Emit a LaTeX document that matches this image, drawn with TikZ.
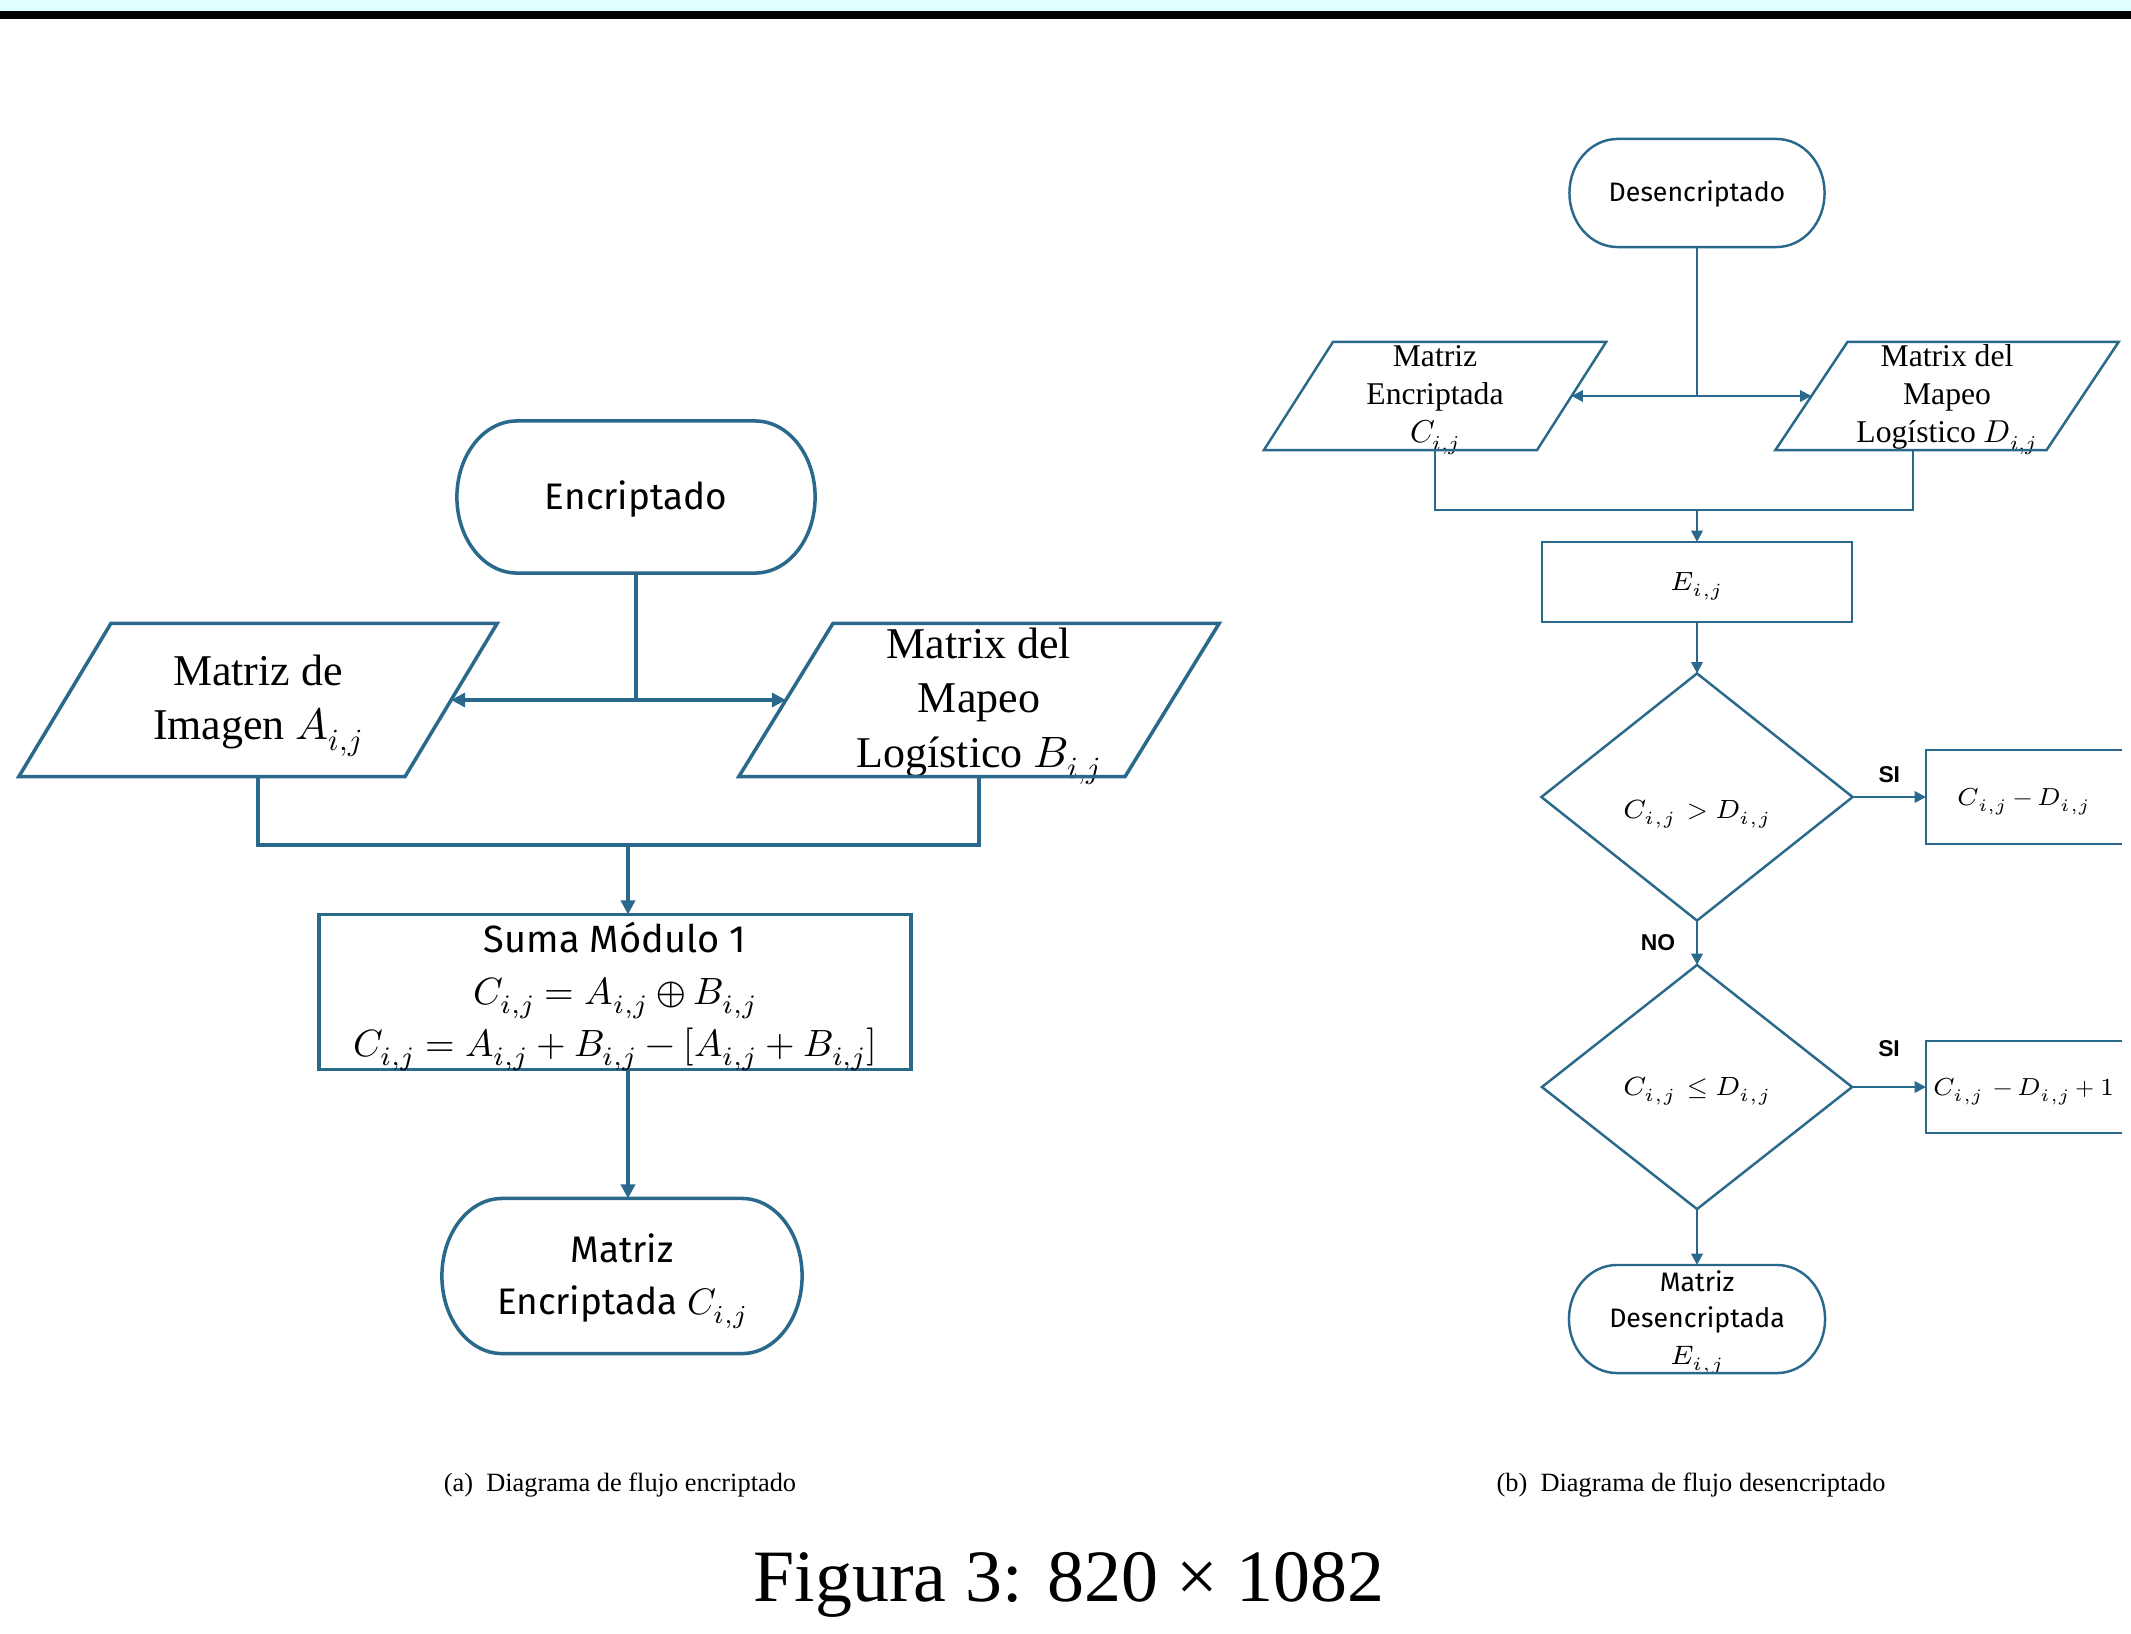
\documentclass[tikz,border=0pt]{standalone}
\usepackage{fontspec}
\usepackage{unicode-math}
\setmainfont{Liberation Serif}
\setmathfont{Latin Modern Math}
\newfontfamily\uisans{Fira Sans}
\newfontfamily\lblfont{Liberation Sans}
\usetikzlibrary{arrows.meta,shapes.geometric}
\definecolor{flow}{RGB}{42,105,140}
\definecolor{topband}{RGB}{224,255,255}
\newcommand\tb[1]{\smash{\raisebox{-0.3em}{\begin{tabular}{@{}c@{}}#1\end{tabular}}}}
\newcommand\termoutline[4]{%
 \draw[#1] ([xshift=#3]#2.north west) -- ([xshift=-#3]#2.north east)
   arc[start angle=90,end angle=-90,x radius=#3,y radius=#4]
   -- ([xshift=#3]#2.south west)
   arc[start angle=270,end angle=90,x radius=#3,y radius=#4] -- cycle;}
\newcommand\paraoutline[3]{%
 \draw[#1] ([xshift=#3]#2.north west) -- ([xshift=#3]#2.north east)
   -- ([xshift=-#3]#2.south east) -- ([xshift=-#3]#2.south west) -- cycle;}
\tikzset{
 lnA/.style={draw=flow,line width=1pt},
 lnB/.style={draw=flow,line width=0.7pt},
 arrA/.style={lnA,-{Triangle[length=4pt,width=4pt]}},
 arrB/.style={lnB,-{Triangle[length=3.2pt,width=3.2pt]}},
 shapebox/.style={inner sep=0pt,outer sep=0pt,align=center},
 sansA/.style={font=\uisans\fontsize{10.5}{14.8}\selectfont},
 serifA/.style={font=\fontsize{12.5}{15.5}\selectfont},
 sansB/.style={font=\uisans\fontsize{7.6}{10.4}\selectfont},
 serifB/.style={font=\fontsize{9}{10.8}\selectfont},
 mathB/.style={font=\fontsize{7.5}{10}\selectfont},
 mathC/.style={font=\fontsize{7}{10}\selectfont},
 lbl/.style={font=\lblfont\bfseries\fontsize{6.5}{8}\selectfont,inner sep=0pt},
 capt/.style={font=\fontsize{7.5}{9}\selectfont,inner sep=0pt,anchor=base}
}
\begin{document}
\begin{tikzpicture}[x=0.01cm,y=-0.01cm]
\useasboundingbox (0,0) rectangle (2131,1633);
\fill[topband] (0,0) rectangle (2131,11);
\fill[black] (0,11) rectangle (2131,19);

% ---------------- (a) ----------------
\node[shapebox,sansA,minimum width=3.58cm,minimum height=1.52cm] (enc) at (636,497) {\tb{Encriptado}};
\termoutline{lnA}{enc}{0.6cm}{0.76cm}
\node[shapebox,serifA,minimum width=3.86cm,minimum height=1.53cm] (la) at (258,700) {\tb{Matriz de\\Imagen $A_{i,j}$}};
\paraoutline{lnA}{la}{0.46cm}
\node[shapebox,serifA,minimum width=3.86cm,minimum height=1.53cm] (lb) at (979,700) {\tb{Matrix del\\Mapeo\\Logístico $B_{i,j}$}};
\paraoutline{lnA}{lb}{0.47cm}
\node[shapebox,lnA,draw,font=\uisans\fontsize{10.8}{14.8}\selectfont,minimum width=5.92cm,minimum height=1.55cm] (suma) at (615,992)
  {\tb{Suma Módulo 1\\$C_{i,j}=A_{i,j}\oplus B_{i,j}$\\$C_{i,j}=A_{i,j}+B_{i,j}-[A_{i,j}+B_{i,j}]$}};
\node[shapebox,sansA,minimum width=3.6cm,minimum height=1.55cm] (menc) at (622,1276) {\tb{Matriz\\Encriptada $C_{i,j}$}};
\termoutline{lnA}{menc}{0.6cm}{0.775cm}

\coordinate (j1) at (enc.south |- la.east);
\draw[lnA] (enc.south) -- (j1);
\draw[arrA] (j1) -- (la.east);
\draw[arrA] (j1) -- (lb.west);
\coordinate (m1) at (628,845);
\draw[lnA] (la.south) -- (la.south |- m1) -- (lb.south |- m1) -- (lb.south);
\draw[arrA] (m1) -- (m1 |- suma.north);
\draw[arrA] (m1 |- suma.south) -- (m1 |- menc.north);

% ---------------- (b) ----------------
\node[shapebox,sansB,minimum width=2.55cm,minimum height=1.08cm] (des) at (1697,193) {\tb{Desencriptado}};
\termoutline{lnB}{des}{0.48cm}{0.54cm}
\node[shapebox,serifB,minimum width=2.73cm,minimum height=1.08cm] (rc) at (1435,396) {\tb{Matriz\\Encriptada\\$C_{i,j}$}};
\paraoutline{lnB}{rc}{0.345cm}
\node[shapebox,serifB,minimum width=2.71cm,minimum height=1.08cm] (rd) at (1947,396) {\tb{Matrix del\\Mapeo\\Logístico $D_{i,j}$}};
\paraoutline{lnB}{rd}{0.36cm}
\node[shapebox,lnB,draw,mathB,minimum width=3.10cm,minimum height=0.80cm] (eb) at (1697,582) {\tb{$E_{i,j}$}};
\node[shapebox,lnB,draw,diamond,mathB,minimum width=3.11cm,minimum height=2.47cm] (d1) at (1697,797) {\raisebox{-0.26cm}{\tb{$C_{i,j}\,>D_{i,j}$}}};
\node[shapebox,lnB,draw,diamond,mathB,minimum width=3.10cm,minimum height=2.44cm] (d2) at (1697,1087) {\tb{$C_{i,j}\,\leq D_{i,j}$}};
\node[shapebox,mathC,minimum width=1.96cm,minimum height=0.94cm] (r1) at (2024,797) {\tb{$C_{i,j}-D_{i,j}$}};
\draw[lnB] (r1.north east) -- (r1.north west) -- (r1.south west) -- (r1.south east);
\node[shapebox,mathC,minimum width=1.96cm,minimum height=0.92cm] (r2) at (2024,1087) {\tb{$C_{i,j}\,-D_{i,j}+1$}};
\draw[lnB] (r2.north east) -- (r2.north west) -- (r2.south west) -- (r2.south east);
\node[shapebox,sansB,minimum width=2.56cm,minimum height=1.08cm] (dt) at (1697,1319) {\tb{Matriz\\Desencriptada\\$E_{i,j}$}};
\termoutline{lnB}{dt}{0.48cm}{0.54cm}

\coordinate (j2) at (des.south |- rc.east);
\draw[lnB] (des.south) -- (j2);
\draw[arrB] (j2) -- (rc.east);
\draw[arrB] (j2) -- (rd.west);
\coordinate (m2) at (1697,510);
\draw[lnB] (rc.south) -- (rc.south |- m2) -- ([xshift=-0.34cm]rd.south |- m2) -- ([xshift=-0.34cm]rd.south);
\draw[arrB] (m2) -- (eb.north);
\draw[arrB] (eb.south) -- (d1.north);
\draw[arrB] (d1.east) -- (r1.west) node[lbl,midway,yshift=0.22cm] (si1) {SI};
\draw[arrB] (d1.south) -- (d2.north) node[lbl,midway,xshift=-0.39cm] (no1) {NO};
\draw[arrB] (d2.east) -- (r2.west) node[lbl,midway,yshift=0.38cm] (si2) {SI};
\draw[arrB] (d2.south) -- (dt.north);

% ---------------- captions ----------------
\node[capt] (capa) at (620,1491) {(a)\enspace Diagrama de flujo encriptado};
\node[capt] (capb) at (1691,1491) {(b)\enspace Diagrama de flujo desencriptado};
\node[font=\fontsize{21}{25}\selectfont,inner sep=0pt,anchor=base] (fig) at (1069,1601) {Figura 3: 820 × 1082};
\end{tikzpicture}
\end{document}
